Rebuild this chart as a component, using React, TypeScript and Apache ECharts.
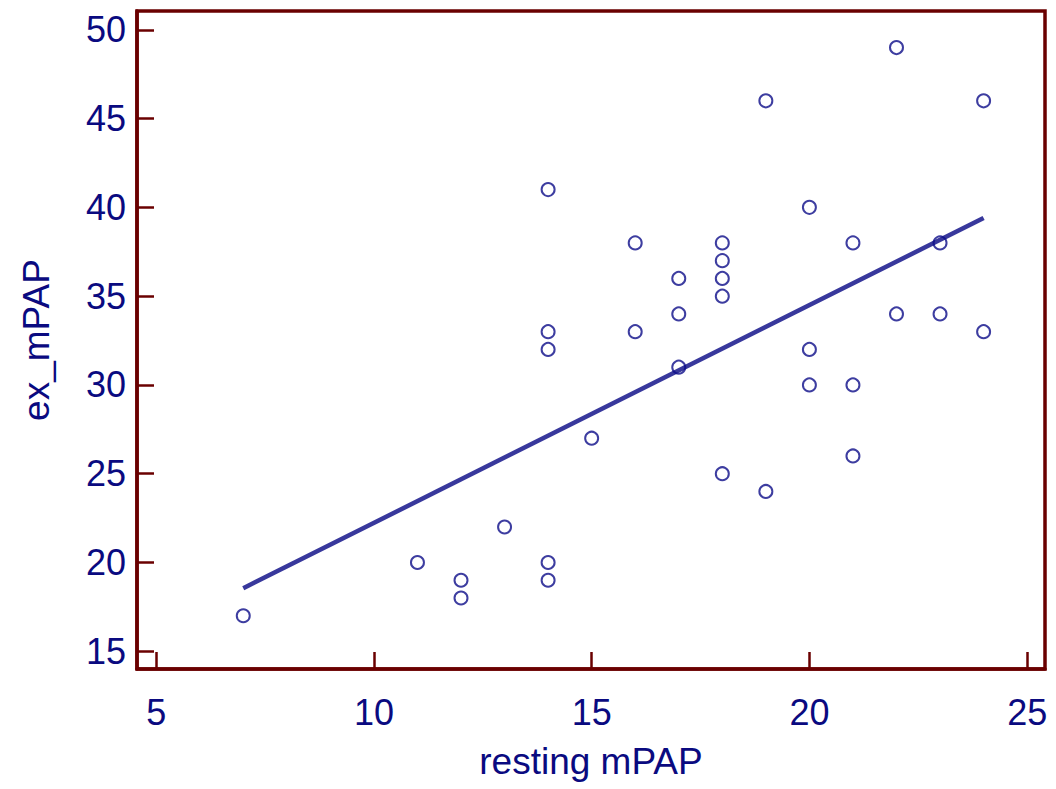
import React, { useEffect, useRef } from "react";
import * as echarts from "echarts";

const restingMPAP = [7, 11, 12, 12, 13, 14, 14, 14, 14, 14, 15, 16, 16, 17, 17, 17, 18, 18, 18, 18, 18, 19, 19, 20, 20, 20, 21, 21, 21, 22, 22, 23, 23, 24, 24];
const exMPAP = [17, 20, 19, 18, 22, 41, 33, 32, 20, 19, 27, 38, 33, 36, 34, 31, 38, 37, 36, 35, 25, 46, 24, 40, 32, 30, 38, 30, 26, 49, 34, 38, 34, 46, 33];
const fitLineX = [7, 24];
const fitLineY = [18.55, 39.4];
const xTicks = [5, 10, 15, 20, 25];
const yTicks = [15, 20, 25, 30, 35, 40, 45, 50];

const AXIS_COLOR = "#6a0000";
const TEXT_COLOR = "#0a0a80";
const FONT = "Liberation Sans, Arial, sans-serif";

export default function App() {
  const ref = useRef<HTMLDivElement>(null);
  useEffect(() => {
    document.body.style.margin = "0";
    const chart = echarts.init(ref.current!, null, { renderer: "svg" });
    const points = restingMPAP.map((x, i) => [x, exMPAP[i]]);
    const line = fitLineX.map((x, i) => [x, fitLineY[i]]);
    chart.setOption({
      animation: false,
      backgroundColor: "#ffffff",
      grid: {
        left: 137,
        right: 11,
        top: 11,
        bottom: 120,
        show: true,
        borderColor: AXIS_COLOR,
        borderWidth: 3.5,
        backgroundColor: "transparent",
      },
      xAxis: {
        type: "value",
        min: 4.56,
        max: 25.41,
        name: "resting mPAP",
        nameLocation: "middle",
        nameGap: 74,
        nameTextStyle: { color: TEXT_COLOR, fontSize: 37, fontFamily: FONT },
        splitLine: { show: false },
        axisLine: { show: true, onZero: false, lineStyle: { color: AXIS_COLOR, width: 3.5 } },
        axisTick: { show: true, inside: true, length: 17, customValues: xTicks, lineStyle: { color: AXIS_COLOR, width: 2.5 } },
        axisLabel: { customValues: xTicks, color: TEXT_COLOR, fontSize: 36, fontFamily: FONT, margin: 25 },
      },
      yAxis: {
        type: "value",
        min: 14.0,
        max: 51.06,
        name: "ex_mPAP",
        nameLocation: "middle",
        nameGap: 82,
        nameRotate: 90,
        nameTextStyle: { color: TEXT_COLOR, fontSize: 37, fontFamily: FONT },
        splitLine: { show: false },
        axisLine: { show: true, onZero: false, lineStyle: { color: AXIS_COLOR, width: 3.5 } },
        axisTick: { show: true, inside: true, length: 17, customValues: yTicks, lineStyle: { color: AXIS_COLOR, width: 2.5 } },
        axisLabel: { customValues: yTicks, color: TEXT_COLOR, fontSize: 36, fontFamily: FONT, margin: 11 },
      },
      series: [
        {
          type: "line",
          data: line,
          showSymbol: false,
          symbol: "none",
          lineStyle: { color: "#38389c", width: 4.5 },
          z: 2,
        },
        {
          type: "scatter",
          data: points,
          symbol: "circle",
          symbolSize: 13,
          itemStyle: { color: "transparent", borderColor: "#0c0c88", borderWidth: 2 },
          z: 3,
        },
      ],
    });
    return () => chart.dispose();
  }, []);
  return <div ref={ref} style={{ width: 1056, height: 789, position: "absolute", left: 0, top: 0 }} />;
}
